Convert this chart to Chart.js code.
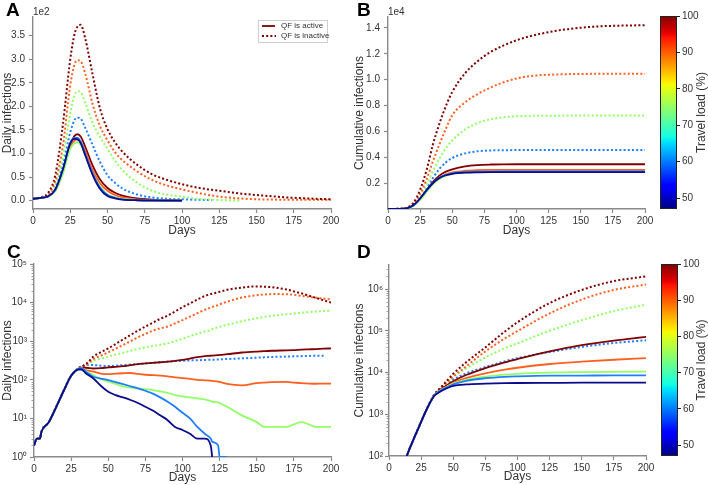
<!DOCTYPE html>
<html>
<head>
<meta charset="utf-8">
<script src="https://cdn.jsdelivr.net/npm/chart.js@4/dist/chart.umd.min.js"></script>
<style>
  html, body { margin: 0; padding: 0; background: #fff; }
  #wrap { position: relative; width: 708px; height: 485px; }
  #wrap canvas { position: absolute; left: 0; top: 0; }
</style>
</head>
<body>
<div id="wrap">
  <canvas id="chartA" width="708" height="485"></canvas>
  <canvas id="chartB" width="708" height="485"></canvas>
  <canvas id="chartC" width="708" height="485"></canvas>
  <canvas id="chartD" width="708" height="485"></canvas>
  <canvas id="barB" width="708" height="485"></canvas>
  <canvas id="barD" width="708" height="485"></canvas>
</div>
<script>
// ---- data ----
var dayTicks = [0, 25, 50, 75, 100, 125, 150, 175, 200];
var aTicks = [0, 50, 100, 150, 200, 250, 300, 350];
var bTicks = [2000, 4000, 6000, 8000, 10000, 12000, 14000];
var barTicks = [50, 60, 70, 80, 90, 100];

// A: daily infections, linear
var daysA = [0,5,10,15,20,25,28,30,32,35,40,45,50,55,60,70,80,90,100,110,120,130,140,150,160,170,180,190,200];
var aDot100 = [4,7,16,55,160,300,355,370,373,345,268,195,152,124,104,76,56,44,35,28,23,19,15,12,9.5,7,5.5,4,3];
var aDot90 = [4,6,13,42,115,245,290,298,296,270,205,158,128,103,86,62,44,32,24,17,11,7,4.5,3,2.5,2,2,2,2];
var aDot75 = [4,6,11,35,92,185,225,232,230,208,165,135,110,85,65,38,21,13,8.5,4,2,1,0.5,null,null,null,null,null,null];
var aDot60 = [4,6,10,30,75,145,172,176,174,155,118,82,54,38,26,13,7,4,3,2,1.5,null,null,null,null,null,null,null,null];
var aSolid100 = [4,6,9,22,62,118,138,141,136,115,75,45,27,17,11,5,2.5,1,0.3,null,null,null,null,null,null,null,null,null,null];
var aSolid90 = [4,6,9,22,60,115,128,130,125,105,65,37,21,12,7,3,1,0.5,0.2,null,null,null,null,null,null,null,null,null,null];
var aSolid75 = [4,6,9,21,57,110,122,124,118,97,58,30,13,7,4,1.5,0.6,0.3,0.1,null,null,null,null,null,null,null,null,null,null];
var aSolid60 = [4,6,9,23,65,122,133,133,125,100,58,28,12,6,3,1,0.5,0.2,0.1,null,null,null,null,null,null,null,null,null,null];
var aSolid48 = [4,6,9,24,66,122,131,130,122,97,55,25,10,5,2.5,1,0.4,0.2,0.1,null,null,null,null,null,null,null,null,null,null];

// B: cumulative infections, linear
var daysB = [0,10,12,15,20,25,30,35,40,45,50,60,70,80,90,100,110,120,130,140,150,160,170,180,190,200];
var bDot100 = [0,25,45,120,500,1500,3000,5000,6600,7950,9050,10500,11450,12150,12650,13050,13350,13580,13770,13910,14020,14100,14150,14180,14200,14210];
var bDot90 = [0,20,35,90,380,1150,2300,3700,5000,6200,7250,8250,8900,9400,9800,10100,10270,10360,10400,10430,10445,10455,10460,10465,10468,10470];
var bDot75 = [0,20,30,75,320,950,1900,2950,3900,4700,5300,6150,6650,6950,7100,7170,7200,7215,7220,7225,7228,7230,7230,7230,7230,7230];
var bDot60 = [0,20,30,70,280,800,1550,2400,3100,3600,3950,4300,4470,4530,4550,4555,4558,4560,4560,4560,4560,4560,4560,4560,4560,4560];
var bSolid100 = [0,15,25,60,300,800,1450,2100,2580,2890,3070,3300,3400,3440,3455,3460,3460,3460,3460,3460,3460,3460,3460,3460,3460,3460];
var bSolid90 = [0,15,25,60,290,770,1390,1990,2420,2680,2830,2960,3010,3025,3030,3030,3030,3030,3030,3030,3030,3030,3030,3030,3030,3030];
var bSolid75 = [0,15,25,55,260,720,1320,1900,2320,2580,2720,2820,2855,2865,2870,2870,2870,2870,2870,2870,2870,2870,2870,2870,2870,2870];
var bSolid60 = [0,15,25,60,300,800,1440,2020,2420,2640,2760,2850,2885,2895,2900,2900,2900,2900,2900,2900,2900,2900,2900,2900,2900,2900];
var bSolid48 = [0,15,25,62,310,810,1450,2010,2400,2610,2720,2810,2840,2850,2850,2850,2850,2850,2850,2850,2850,2850,2850,2850,2850,2850];

// C: daily infections, log
var daysC = [0,2,4,5,10,15,20,25,30,32,35,40,45,50,55,60,65,70,75,80,85,90,95,100,105,110,115,119,120,124,125,130,140,150,155,160,170,175,180,185,190,195,200];
var cDot100 = [2,3,3,4.5,8,20,52,127,200,220,255,400,520,650,850,1110,1450,1870,2400,3000,3800,4600,5900,7600,9500,12000,14800,16600,17000,18600,19000,21400,24500,26300,25700,25100,21900,19500,17400,15100,13200,11500,10000];
var cDot90 = [2,3,3,4.5,8,20,52,127,200,215,240,345,420,515,640,800,1000,1260,1550,1870,2150,2400,2900,3500,4300,5300,6500,7400,7700,8600,9000,10500,13500,15500,16200,16600,16500,15900,14900,14100,13300,12700,12100];
var cDot75 = [2,3,3,4.5,8,20,52,127,200,210,240,310,355,400,450,500,565,630,690,750,810,880,1000,1150,1350,1550,1780,1950,2050,2300,2350,2650,3300,3950,4250,4550,5000,5200,5450,5650,5850,6050,6200];
var cDot60 = [2,3,3,4.5,8,20,52,127,200,215,240,240,232,228,232,240,248,255,265,275,285,295,305,312,318,322,326,330,330,335,337,345,360,375,382,390,400,405,410,415,420,420,null];
var cSolid100 = [2,3,3,4.5,8,20,52,127,195,205,205,196,200,210,217,225,240,255,265,275,285,295,310,330,355,385,410,420,425,435,440,460,510,540,550,565,580,590,605,615,625,640,650];
var cSolid90 = [2,3,3,4.5,8,20,52,127,195,200,178,162,145,140,145,148,150,142,135,132,128,122,115,110,106,100,97,95,94,90,88,78,72,82,85,87,88,85,82,80,79,80,80];
var cSolid75 = [2,3,3,4.5,8,20,52,127,195,200,170,133,105,89,78,68,63,60,57,54,50,46,40,37,35,33,31,28,27,26,25,20,12,8,6,6,6,7,8,7,6,6,6];
var cSolid60 = [2,3,3,4.5,8,20,52,127,195,200,162,120,108,98,87,77,68,60,52,44,35,27,20,14,10,6,4,3,2.5,2,1,1,null,null,null,null,null,null,null,null,null,null,null];
var cSolid48 = [2,3,3,4.5,8,20,52,127,185,185,146,108,70,49,40,35,30,25,20,16,12,9,6,5,4,3,3,2,1,null,null,null,null,null,null,null,null,null,null,null,null,null,null];

// D: cumulative infections, log
var daysD = [0,5,10,15,20,25,30,35,40,45,50,60,75,90,100,125,150,175,200];
var dDot100 = [2,15,45,125,290,660,1450,2900,4300,6300,9300,17500,40000,95000,160000,460000,950000,1550000,2000000];
var dDot90 = [2,15,45,125,290,660,1450,2850,4150,5700,8000,14000,32000,65000,98000,260000,560000,950000,1280000];
var dDot75 = [2,15,45,125,290,660,1450,2800,4075,5600,7800,12500,23000,38000,50000,100000,180000,295000,420000];
var dDot60 = [2,15,45,125,290,660,1450,2800,4100,5200,6800,9500,13500,18500,22000,31000,41000,51000,59000];
var dSolid100 = [2,15,45,125,290,660,1450,2750,3900,4900,6200,8700,12800,17500,21000,32000,45000,58000,71000];
var dSolid90 = [2,15,45,125,290,660,1450,2750,3750,4600,5700,7300,9500,11700,13000,16000,18200,20200,22000];
var dSolid75 = [2,15,45,125,290,660,1450,2750,3700,4500,5400,6700,8000,8900,9300,9900,10200,10400,10500];
var dSolid60 = [2,15,45,125,290,660,1450,2750,3650,4400,5200,6300,7300,7900,8100,8400,8450,8500,8500];
var dSolid48 = [2,15,45,125,290,660,1450,2700,3500,4200,4800,5200,5400,5550,5600,5650,5700,5700,5700];

// ---- styling ----
var W = 708, H = 485;
var axisColor = '#8a8a8a';
var textColor = '#333';
var col100 = '#800000', col90 = '#ff6020', col75 = '#92ff64', col60 = '#1f7fff', col48 = '#0a0a8c';
var sup = ['\u2070', '\u00b9', '\u00b2', '\u00b3', '\u2074', '\u2075', '\u2076'];

Chart.defaults.font.family = '"Liberation Sans", Arial, Helvetica, sans-serif';
Chart.defaults.color = textColor;

function line(days, values, color, dotted) {
    return {
        data: days.map(function(d, i) { return {x: d, y: values[i]}; }),
        borderColor: color,
        borderWidth: dotted ? 2 : 1.8,
        borderDash: dotted ? [2, 2.2] : [],
        pointRadius: 0,
        fill: false,
        spanGaps: false,
        cubicInterpolationMode: 'monotone'
    };
}

function setOf(days, s48, s60, s75, s90, s100, d100, d90, d75, d60) {
    return [
        line(days, s48, col48, false), line(days, s60, col60, false),
        line(days, s75, col75, false), line(days, s90, col90, false),
        line(days, s100, col100, false),
        line(days, d100, col100, true), line(days, d90, col90, true),
        line(days, d75, col75, true), line(days, d60, col60, true)
    ];
}

function logTicks(minExp, maxExp, maxVal) {
    var out = [];
    for (var e = minExp; e <= maxExp; e++) {
        for (var m = 1; m <= 9; m++) {
            var v = m * Math.pow(10, e);
            if (v <= maxVal) out.push({value: v, major: m === 1});
        }
    }
    return out;
}

// draws panel letters, the exponent note, legend, log minor ticks, colorbar
var panelDeco = {
    id: 'panelDeco',
    afterDraw: function(chart, args, o) {
        var ctx = chart.ctx, area = chart.chartArea;
        ctx.save();
        if (o.colorbar) {
            var g = ctx.createLinearGradient(0, area.bottom, 0, area.top);
            [[0,'#000080'],[0.11,'#0000ff'],[0.125,'#0000ff'],[0.34,'#00dbff'],[0.35,'#00e6f7'],
             [0.375,'#14ffe2'],[0.64,'#eeff08'],[0.65,'#f7f500'],[0.66,'#ffec00'],[0.89,'#ff1300'],
             [0.91,'#e80000'],[1,'#800000']].forEach(function(s) { g.addColorStop(s[0], s[1]); });
            ctx.fillStyle = g;
            ctx.fillRect(area.left, area.top, area.right - area.left, area.bottom - area.top);
            ctx.strokeStyle = '#222';
            ctx.lineWidth = 1;
            ctx.strokeRect(area.left + 0.5, area.top + 0.5, area.right - area.left - 1, area.bottom - area.top - 1);
            ctx.translate(o.titleX, (area.top + area.bottom) / 2);
            ctx.rotate(-Math.PI / 2);
            ctx.font = '12px "Liberation Sans", Arial, sans-serif';
            ctx.fillStyle = textColor;
            ctx.textAlign = 'center';
            ctx.textBaseline = 'middle';
            ctx.fillText('Travel load (%)', 0, 0);
            ctx.restore();
            return;
        }
        if (o.letter) {
            ctx.font = 'bold 19px "Liberation Sans", Arial, sans-serif';
            ctx.fillStyle = '#000';
            ctx.fillText(o.letter, o.letterX, o.letterY);
        }
        if (o.exponent) {
            ctx.font = '10px "Liberation Sans", Arial, sans-serif';
            ctx.fillStyle = textColor;
            ctx.fillText(o.exponent, area.left, 15);
        }
        if (o.minorTicks) {
            var s = chart.scales.y;
            ctx.strokeStyle = axisColor;
            ctx.lineWidth = 0.8;
            ctx.beginPath();
            s.ticks.forEach(function(t) {
                if (t.major) return;
                var y = Math.round(s.getPixelForValue(t.value)) + 0.5;
                ctx.moveTo(s.right, y);
                ctx.lineTo(s.right - 2.5, y);
            });
            ctx.stroke();
        }
        if (o.legend) {
            ctx.fillStyle = 'rgba(255,255,255,0.9)';
            ctx.strokeStyle = '#d0d0d0';
            ctx.lineWidth = 1;
            ctx.fillRect(258.5, 20.5, 69, 22);
            ctx.strokeRect(258.5, 20.5, 69, 22);
            ctx.strokeStyle = col100;
            ctx.lineWidth = 1.8;
            ctx.beginPath(); ctx.moveTo(262, 26); ctx.lineTo(275, 26); ctx.stroke();
            ctx.setLineDash([2, 2.2]);
            ctx.beginPath(); ctx.moveTo(262, 36); ctx.lineTo(276, 36); ctx.stroke();
            ctx.setLineDash([]);
            ctx.font = '8px "Liberation Sans", Arial, sans-serif';
            ctx.fillStyle = textColor;
            ctx.textBaseline = 'middle';
            ctx.fillText('QF is active', 281, 26);
            ctx.fillText('QF is inactive', 281, 36);
        }
        ctx.restore();
    }
};
Chart.register(panelDeco);

function xAxis(box) {
    return {
        type: 'linear', min: 0, max: 200,
        afterFit: function(s) { s.height = box.xh; },
        afterBuildTicks: function(s) { s.ticks = dayTicks.map(function(v) { return {value: v}; }); },
        grid: { drawOnChartArea: false, tickLength: 4, tickColor: axisColor, tickWidth: 1.2 },
        border: { color: axisColor, width: 1.4 },
        ticks: { font: { size: 10 }, color: textColor, padding: 2, maxRotation: 0, autoSkip: false },
        title: { display: true, text: 'Days', font: { size: 12 }, color: textColor, padding: { top: 0, bottom: 0 } }
    };
}

function yAxis(box, title, scaleType, min, max, tickList, label) {
    return {
        type: scaleType, min: min, max: max,
        afterFit: function(s) { s.width = box.yw; },
        afterBuildTicks: function(s) { s.ticks = tickList; },
        grid: {
            drawOnChartArea: false, tickLength: 4, tickWidth: 1.2,
            tickColor: function(c) { return (c.tick && c.tick.major === false) ? 'rgba(0,0,0,0)' : axisColor; }
        },
        border: { color: axisColor, width: 1.4 },
        ticks: { font: { size: 10 }, color: textColor, padding: box.tp, autoSkip: false, callback: label },
        title: { display: true, text: title, font: { size: 12 }, color: textColor, padding: { top: 0, bottom: 0 } }
    };
}

function panel(id, box, datasets, y, deco) {
    return new Chart(document.getElementById(id), {
        type: 'line',
        data: { datasets: datasets },
        options: {
            responsive: false,
            animation: false,
            events: [],
            layout: { padding: { left: box.left - box.yw, top: box.top, right: W - box.right, bottom: H - box.bottom - box.xh } },
            plugins: { legend: { display: false }, tooltip: { enabled: false }, panelDeco: deco },
            scales: { x: xAxis(box), y: y }
        }
    });
}

function colorbar(id, top, bottom, left, right, titleX) {
    return new Chart(document.getElementById(id), {
        type: 'line',
        data: { datasets: [] },
        options: {
            responsive: false,
            animation: false,
            events: [],
            layout: { padding: { left: left, top: top, right: W - right - 31, bottom: H - bottom } },
            plugins: { legend: { display: false }, tooltip: { enabled: false }, panelDeco: { colorbar: true, titleX: titleX } },
            scales: {
                x: { type: 'linear', display: false },
                y: {
                    type: 'linear', position: 'right', min: 47, max: 100,
                    afterFit: function(s) { s.width = 31; },
                    afterBuildTicks: function(s) { s.ticks = barTicks.map(function(v) { return {value: v}; }); },
                    grid: { drawOnChartArea: false, tickLength: 3, tickColor: '#222' },
                    border: { display: false },
                    ticks: { font: { size: 10 }, color: textColor, padding: 2 }
                }
            }
        }
    });
}

function logLabel(v, i, ticks) {
    return ticks[i].major ? '10' + sup[Math.round(Math.log10(v))] : '';
}

var boxA = { left: 33, right: 331, top: 17, bottom: 209, yw: 33, xh: 29, tp: 4 };
var boxB = { left: 388, right: 645, top: 17, bottom: 209, yw: 36, xh: 29, tp: 4 };
var boxC = { left: 34, right: 331, top: 264, bottom: 457, yw: 34, xh: 28, tp: 3 };
var boxD = { left: 389, right: 646, top: 265, bottom: 456, yw: 37, xh: 28, tp: 2 };

panel('chartA', boxA,
    setOf(daysA, aSolid48, aSolid60, aSolid75, aSolid90, aSolid100, aDot100, aDot90, aDot75, aDot60),
    yAxis(boxA, 'Daily infections', 'linear', -17.6, 389.7,
        aTicks.map(function(v) { return {value: v}; }),
        function(v) { return (v / 100).toFixed(1); }),
    { letter: 'A', letterX: 6, letterY: 16, exponent: '1e2', legend: true });

panel('chartB', boxB,
    setOf(daysB, bSolid48, bSolid60, bSolid75, bSolid90, bSolid100, bDot100, bDot90, bDot75, bDot60),
    yAxis(boxB, 'Cumulative infections', 'linear', 0, 14850,
        bTicks.map(function(v) { return {value: v}; }),
        function(v) { return (v / 10000).toFixed(1); }),
    { letter: 'B', letterX: 357, letterY: 16, exponent: '1e4' });

panel('chartC', boxC,
    setOf(daysC, cSolid48, cSolid60, cSolid75, cSolid90, cSolid100, cDot100, cDot90, cDot75, cDot60),
    yAxis(boxC, 'Daily infections', 'logarithmic', 1, 100000, logTicks(0, 5, 100000), logLabel),
    { letter: 'C', letterX: 7, letterY: 258, minorTicks: true });

panel('chartD', boxD,
    setOf(daysD, dSolid48, dSolid60, dSolid75, dSolid90, dSolid100, dDot100, dDot90, dDot75, dDot60),
    yAxis(boxD, 'Cumulative infections', 'logarithmic', 100, 3760000, logTicks(2, 6, 3760000), logLabel),
    { letter: 'D', letterX: 357, letterY: 258, minorTicks: true });

colorbar('barB', 16, 209, 660, 677, 702);
colorbar('barD', 264, 456, 661, 678, 702);
</script>
</body>
</html>
